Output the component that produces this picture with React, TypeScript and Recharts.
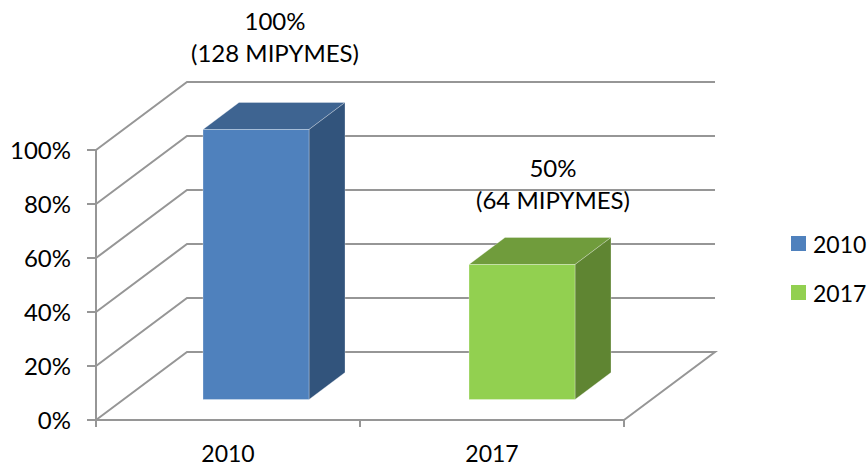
import { Bar, BarChart, CartesianGrid, Legend, XAxis, YAxis } from "recharts";

const categories = ["2010", "2017"];
const values2010 = [100, null];
const values2017 = [null, 50];
const yTicks = [0, 20, 40, 60, 80, 100];
const labelPercent = ["100%", "50%"];
const labelCount = ["(128 MIPYMES)", "(64 MIPYMES)"];

const chartData = categories.map((name, i) => ({
  name,
  y2010: values2010[i],
  y2017: values2017[i],
}));

const FONT = "Lato, Carlito, sans-serif";
const GRID = "#969696";
// depth of the fake 3d floor and of the bars
const WALL_DX = 91;
const WALL_DY = -68;
const BAR_DX = 36;
const BAR_DY = -27;

function wallLine(props: any) {
  const { x1, x2, y1, index } = props;
  const isFloor = y1 >= 419;
  const points = [
    [x1, y1],
    [x1 + WALL_DX, y1 + WALL_DY],
    [x2 + WALL_DX, y1 + WALL_DY],
  ];
  if (isFloor) points.push([x2, y1]);
  return (
    <polyline
      key={index}
      points={points.map((p) => p.join(",")).join(" ")}
      fill="none"
      stroke={GRID}
      strokeWidth={2}
    />
  );
}

// category axis ticks sit on the band edges, labels in the middle of the band
function CategoryTick(props: any) {
  const { x, y, width, index, payload } = props;
  const half = width / categories.length / 2;
  const edges = index === categories.length - 1 ? [x - half, x + half] : [x - half];
  return (
    <g>
      {edges.map((edge) => (
        <line key={edge} x1={edge} x2={edge} y1={y} y2={y + 7} stroke={GRID} strokeWidth={2} />
      ))}
      <text x={x} y={y + 42} textAnchor="middle" fontFamily={FONT} fontSize={23} fill="#000">
        {payload.value}
      </text>
    </g>
  );
}

function box3d(front: string, top: string, side: string, shiftX: number, labelX: number, labelY: number) {
  return (props: any) => {
    const { x, y, width, height, index } = props;
    if (!height || height <= 0) return <g />;
    const left = x + shiftX;
    const right = left + width;
    const upper = y - 20.5;
    const lower = upper + height;
    const cx = left + width / 2 + labelX;
    const edge = { strokeWidth: 0.8, strokeOpacity: 0.35, stroke: "#ffffff" };
    return (
      <g>
        <polygon
          points={`${left},${upper} ${left + BAR_DX},${upper + BAR_DY} ${right + BAR_DX},${upper + BAR_DY} ${right},${upper}`}
          fill={top}
          {...edge}
        />
        <polygon
          points={`${right},${upper} ${right + BAR_DX},${upper + BAR_DY} ${right + BAR_DX},${lower + BAR_DY} ${right},${lower}`}
          fill={side}
          {...edge}
        />
        <rect x={left} y={upper} width={width} height={height} fill={front} {...edge} />
        <text x={cx} y={upper + labelY - 32} textAnchor="middle" fontFamily={FONT} fontSize={24} fill="#000">
          {labelPercent[index]}
        </text>
        <text x={cx} y={upper + labelY} textAnchor="middle" fontFamily={FONT} fontSize={24} fill="#000">
          {labelCount[index]}
        </text>
      </g>
    );
  };
}

function LegendBox({ payload }: any) {
  return (
    <div style={{ fontFamily: FONT, fontSize: 23, color: "#000" }}>
      {(payload ?? []).map((item: any) => (
        <div key={item.value} style={{ display: "flex", alignItems: "center", height: 49, whiteSpace: "nowrap" }}>
          <span style={{ width: 15, height: 15, background: item.color, marginRight: 7, flex: "none" }} />
          {item.value}
        </div>
      ))}
    </div>
  );
}

export default function App() {
  return (
    <div style={{ position: "absolute", left: 0, top: 0, width: 868, height: 468, overflow: "hidden" }}>
      <BarChart
        width={868}
        height={468}
        data={chartData}
        margin={{ top: 150, right: 167, bottom: 0, left: 0 }}
        barSize={106}
      >
        <CartesianGrid vertical={false} horizontal={wallLine} />
        <XAxis
          dataKey="name"
          height={48}
          tickSize={0}
          tickMargin={0}
          tickLine={false}
          interval={0}
          axisLine={{ stroke: GRID, strokeWidth: 2 }}
          tick={CategoryTick}
        />
        <YAxis
          width={96}
          domain={[0, 100]}
          ticks={yTicks}
          tickFormatter={(v: number) => `${v}%`}
          tickSize={9}
          tickMargin={16}
          axisLine={{ stroke: GRID, strokeWidth: 2 }}
          tickLine={{ stroke: GRID, strokeWidth: 2 }}
          tick={{ fontFamily: FONT, fontSize: 24, fill: "#000" }}
        />
        <Legend
          layout="vertical"
          align="right"
          verticalAlign="top"
          content={LegendBox}
          wrapperStyle={{ left: 791, top: 219, width: 77 }}
        />
        <Bar
          dataKey="y2010"
          name="2010"
          stackId="a"
          fill="#4F81BD"
          isAnimationActive={false}
          shape={box3d("#4F81BD", "#3E6491", "#32547C", 28, 19, -68)}
        />
        <Bar
          dataKey="y2017"
          name="2017"
          stackId="a"
          fill="#92D050"
          isAnimationActive={false}
          shape={box3d("#92D050", "#709C3C", "#5F8532", 30, 31, -56)}
        />
      </BarChart>
    </div>
  );
}
